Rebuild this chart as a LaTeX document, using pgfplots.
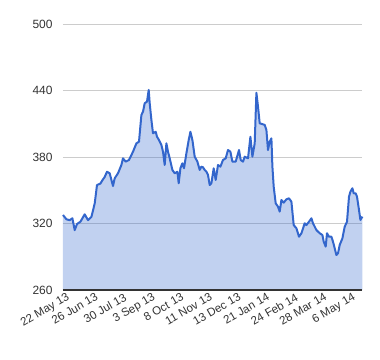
\documentclass[border=0pt]{standalone}
\usepackage{pgfplots}
\usepackage{pgfplotstable}
\pgfplotsset{compat=1.18}
\usepackage{fontspec}
\setmainfont{Liberation Sans}
\definecolor{gline}{HTML}{3366CC}
\definecolor{ggrid}{HTML}{CCCCCC}
\definecolor{gtext}{HTML}{333333}
\definecolor{gbase}{HTML}{333333}
\pgfplotstableread{
x v
63.3 327.7
66.7 323.8
70 323
72.7 324.7
75 314
77.3 319.5
80.7 321.6
85 328.3
88.3 323
91.7 326
95 338
97.3 354.7
100.7 356
102.7 359
105 362
107.3 366.7
110 365.3
113.3 353.8
115 360.8
118.3 365.3
121.7 372.8
123.3 378.8
126 375.8
129.3 377.3
131.7 381.8
133.3 384.8
136.7 392.3
139.3 393.8
141.7 417.9
143.3 420.9
145 428.5
147.3 429.9
149 440.5
150 428.5
151.7 413.4
153.3 401.4
156 402.8
157.3 398.3
159.3 395.3
161.7 390.8
163.3 384.8
165 372.8
166.7 392.3
168.3 384.8
170 378.8
172.7 368.3
175 365.3
177.7 366.7
179 356.3
180.7 369.8
182.7 374.3
184.3 369.8
186.7 383.3
189 395.3
190.7 402.8
192.7 395.3
195 380.3
197.7 375.8
200 368.3
201.7 371.3
203.3 370.7
205 368.3
206.7 366.7
208.3 363.8
210 354.7
211.7 356.3
214 369.8
216 359.3
218.3 372.8
220.7 371.3
223.3 377.3
226 378.8
228.3 386.3
230.7 384.8
232.7 375.8
236 375.8
239.3 386.3
241 377.3
243.3 375.8
245 380.3
248.3 378.8
250.7 398.3
252.7 380.3
255 392.3
256.7 438
258.3 425.4
260 410.4
262.3 409.8
265 408.9
266.7 404.4
268.3 386.3
270 393.8
271.7 396.8
272.7 371.3
274 353.2
276 338.2
278.3 335.2
280 330.7
281.7 341.2
284 338.8
286.7 341.8
289.3 342.7
291.7 339.7
294 318.6
296.7 315.7
299.3 308.1
301.7 311.2
305 320.2
306.7 318.6
309.3 321.6
311.7 324.7
313.3 320.2
316.7 314.1
320 311.2
322.7 309.6
324 303.6
326 299.1
327.3 311.2
329.3 308.1
331.7 308.1
333.3 303.6
336.7 291.6
338.3 293.1
340 300.6
342.7 306.6
345 317.1
347.3 321.6
349.3 344.2
350.7 348.7
352.7 351.8
354 347.2
356 347.2
357.3 344.2
359.3 332.2
360.7 323.2
362.7 326.2
}\pricedata
\begin{document}
\begin{tikzpicture}
\useasboundingbox (-63bp,-70bp) rectangle (317bp,290bp);
\begin{axis}[
  at={(0,0)}, anchor=south west,
  scale only axis,
  width=299.4bp, height=266bp,
  xmin=63.3, xmax=362.7,
  ymin=260, ymax=500,
  ytick={260,320,380,440,500},
  xtick={63.3,91.9,120.5,149.1,177.7,206.3,234.9,263.5,292.1,320.7,349.3},
  xticklabels={22 May 13,26 Jun 13,30 Jul 13,3 Sep 13,8 Oct 13,11 Nov 13,13 Dec 13,21 Jan 14,24 Feb 14,28 Mar 14,6 May 14},
  ymajorgrids,
  major grid style={draw=ggrid, line width=0.8pt},
  axis line style={draw=none},
  major tick length=0pt,
  tick label style={font=\fontsize{12}{14}\selectfont, text=gtext},
  /pgf/number format/assume math mode=true,
  yticklabel style={xshift=-7bp},
  xticklabel style={rotate=30, anchor=north east, inner sep=0.5pt, font=\fontsize{11.6}{13}\selectfont, xshift=2bp, yshift=-3bp},
  clip=false,
]
\addplot[draw=none, fill=gline, fill opacity=0.3] table[x=x,y=v] {\pricedata} \closedcycle;
\addplot[draw=gline, line width=2bp, line join=round] table[x=x,y=v] {\pricedata};
\draw[gbase, line width=1.2bp] (axis cs:63.3,260) -- (axis cs:362.7,260);
\end{axis}
\end{tikzpicture}
\end{document}
